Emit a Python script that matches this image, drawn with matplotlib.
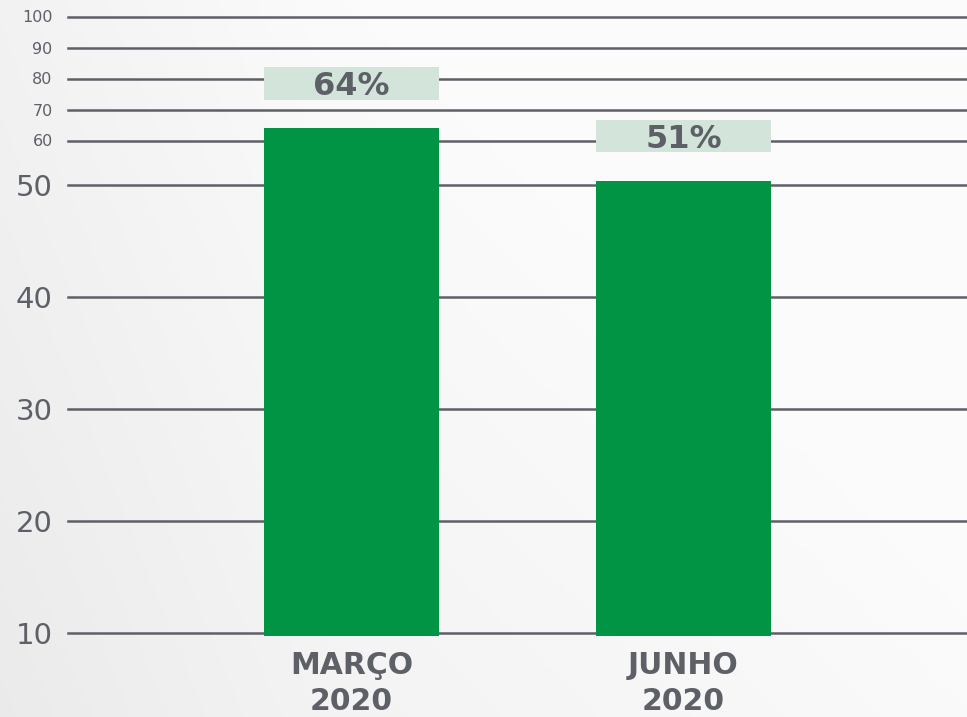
import numpy as np
import matplotlib
matplotlib.use("Agg")
import matplotlib.pyplot as plt
from matplotlib.patches import Rectangle

# ---- data ----
categories = ["MARÇO\n2020", "JUNHO\n2020"]
values = [64, 51]
value_labels = ["64%", "51%"]
tick_values = [10, 20, 30, 40, 50, 60, 70, 80, 90, 100]
tick_labels = ["10", "20", "30", "40", "50", "60", "70", "80", "90", "100"]

# piecewise (broken) axis: pixel positions of tick values in the original layout
scale_vals = [0, 10, 20, 30, 40, 50, 60, 70, 80, 90, 100, 110]
scale_px = [745, 633, 521, 409, 297, 185, 140.5, 109.5, 78.5, 47.5, 16.5, -14.5]
fwd_vals = np.array(scale_vals, float)
fwd_pos = -np.array(scale_px, float)

def fwd(v):
    return np.interp(v, fwd_vals, fwd_pos)

def inv(p):
    return np.interp(p, fwd_pos, fwd_vals)

W, H = 967, 717
DPI = 100
fig = plt.figure(figsize=(W / DPI, H / DPI), dpi=DPI)
fig.patch.set_facecolor("#f4f4f4")

# subtle background gradient
bg = fig.add_axes([0, 0, 1, 1], zorder=-10)
yy, xx = np.mgrid[0:1:200j, 0:1:270j]
g = 0.985 - 0.05 * np.clip((1 - xx) * 0.8 + yy * 0.6 - 0.5, 0, 1)
g = g - 0.02 * np.clip(1 - xx * 3, 0, 1)
bg.imshow(np.dstack([g, g, g]), aspect="auto", extent=[0, 1, 0, 1], origin="upper")
bg.axis("off")

grey = "#5e6068"
green = "#009444"
boxc = "#d3e4da"

left_px, right_px = 68, 967
top_px, bot_px = 16.5, 636
ax = fig.add_axes([left_px / W, 1 - bot_px / H, (right_px - left_px) / W, (bot_px - top_px) / H])
ax.set_facecolor("none")
ax.set_yscale("function", functions=(fwd, inv))
ylo = inv(-bot_px)
ax.set_ylim(ylo, 100)

x = np.arange(len(categories))
unit = 332.0
ax.set_xlim((left_px - 351.5) / unit, (right_px - 351.5) / unit)

for t in tick_values:
    ax.axhline(t, color=grey, lw=1.8, zorder=1, clip_on=False)

bw = 175 / unit
ax.bar(x, [v - ylo for v in values], bottom=ylo, width=bw, color=green, zorder=3)

# value boxes (pixel offsets above bar tops)
gap, bh = 28.5, 32.5
for xi, v, lab in zip(x, values, value_labels):
    top = -fwd(v)  # pixel y from top
    b_px = top - gap
    t_px = b_px - bh
    yb = inv(-b_px)
    yt = inv(-t_px)
    ax.add_patch(Rectangle((xi - bw / 2, yb), bw, yt - yb, facecolor=boxc,
                           edgecolor="none", zorder=4, clip_on=False))
    ax.text(xi, inv(-(b_px - bh / 2)), lab, ha="center", va="center_baseline",
            fontsize=23, fontweight="bold", color=grey, zorder=5)

ax.set_yticks(tick_values)
ax.set_yticklabels(tick_labels)
for lab, t in zip(ax.get_yticklabels(), tick_values):
    lab.set_fontsize(21 if t <= 50 else 11.5)
    lab.set_color(grey)
ax.tick_params(axis="y", length=0, pad=11)

ax.set_xticks(x)
ax.set_xticklabels(categories, fontsize=21.5, fontweight="bold", color=grey, linespacing=1.3)
ax.tick_params(axis="x", length=0, pad=11)

for s in ax.spines.values():
    s.set_visible(False)

fig.savefig("out.png", dpi=DPI, facecolor=fig.get_facecolor())
